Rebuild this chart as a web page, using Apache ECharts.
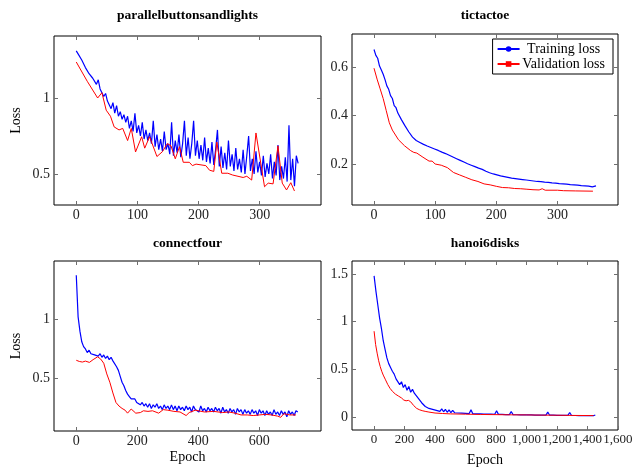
<!DOCTYPE html>
<html>
<head>
<meta charset="utf-8">
<script src="https://cdn.jsdelivr.net/npm/echarts@6/dist/echarts.min.js"></script>
<style>
html,body{margin:0;padding:0;background:#fff;}
#chart{width:643px;height:468px;}
</style>
</head>
<body>
<div id="chart"></div>
<script>
// ---------------- DATA ----------------
const panelTitles = ['parallelbuttonsandlights', 'tictactoe', 'connectfour', 'hanoi6disks'];
const seriesNames = ['Training loss', 'Validation loss'];

// parallelbuttonsandlights
const pbTrainStep = 3;
const pbTrain = [1.31,1.29,1.28,1.25,1.24,1.20,1.21,1.16,1.17,1.13,1.14,1.09,1.12,1.06,1.07,1.01,1.03,0.98,0.99,0.93,
  0.97,0.90,0.95,0.88,0.91,0.86,0.89,0.84,0.88,0.80,0.85,0.78,0.90,0.77,0.82,0.75,0.84,0.73,0.79,0.72,
  0.77,0.70,0.85,0.68,0.76,0.66,0.73,0.65,0.78,0.66,0.70,0.63,0.84,0.62,0.72,0.64,0.76,0.61,0.70,0.85,
  0.62,0.74,0.60,0.70,0.85,0.62,0.72,0.60,0.69,0.59,0.74,0.58,0.67,0.57,0.71,0.56,0.66,0.79,0.55,0.68,
  0.54,0.64,0.53,0.72,0.55,0.63,0.52,0.67,0.53,0.60,0.51,0.66,0.50,0.62,0.75,0.52,0.60,0.50,0.65,0.51,
  0.58,0.49,0.62,0.48,0.57,0.50,0.63,0.47,0.58,0.49,0.69,0.46,0.55,0.47,0.61,0.45,0.82,0.46,0.60,0.42,
  0.62,0.57];
const pbValEpochs = [0,18,35,42,49,56,62,70,76,84,90,97,107,112,120,132,141,149,155,162,169,175,185,190,196,212,218,225,230,238,248,256,273,279,287,294,308,314,322,330,337,344,351,357];
const pbVal = [1.237,1.11,1.00,1.035,0.92,0.88,0.81,0.79,0.80,0.72,0.80,0.645,0.745,0.67,0.745,0.615,0.647,0.70,0.685,0.60,0.68,0.577,0.577,0.555,0.565,0.555,0.525,0.517,0.71,0.505,0.505,0.493,0.477,0.485,0.46,0.77,0.416,0.44,0.435,0.685,0.44,0.395,0.443,0.388];

// tictactoe
const tttTrainStep = 3;
const tttTrain = [0.672,0.648,0.636,0.604,0.588,0.570,0.548,0.522,0.508,0.482,0.470,0.441,0.432,0.410,0.402,0.382,0.375,0.356,0.352,0.332,
  0.330,0.311,0.312,0.297,0.300,0.289,0.292,0.281,0.286,0.274,0.280,0.268,0.274,0.262,0.266,0.256,0.260,0.249,0.253,0.243,
  0.245,0.236,0.238,0.229,0.231,0.222,0.225,0.215,0.218,0.208,0.211,0.201,0.204,0.195,0.199,0.189,0.193,0.183,0.187,0.178,
  0.176,0.170,0.171,0.164,0.167,0.159,0.163,0.155,0.159,0.151,0.155,0.148,0.152,0.145,0.149,0.142,0.147,0.140,0.144,0.138,
  0.141,0.136,0.139,0.134,0.137,0.132,0.135,0.130,0.133,0.128,0.132,0.127,0.130,0.125,0.129,0.124,0.127,0.122,0.126,0.121,
  0.124,0.119,0.123,0.118,0.121,0.117,0.120,0.115,0.119,0.114,0.117,0.113,0.116,0.111,0.115,0.110,0.113,0.109,0.112,0.106,
  0.109,0.110];
const tttValEpochs = [0,5,10,15,20,25,30,40,50,60,65,70,80,90,95,100,110,120,130,140,150,160,170,180,190,200,210,220,230,240,250,260,270,275,280,300,310,330,358];
const tttVal = [0.595,0.55,0.51,0.47,0.42,0.37,0.34,0.30,0.275,0.255,0.248,0.245,0.228,0.212,0.212,0.200,0.195,0.185,0.165,0.155,0.145,0.135,0.128,0.118,0.114,0.108,0.103,0.102,0.099,0.098,0.096,0.094,0.093,0.098,0.092,0.092,0.090,0.089,0.088];

// connectfour
const c4TrainStep = 6;
const c4Train = [1.37,1.02,0.90,0.81,0.77,0.75,0.72,0.74,0.71,0.72,0.70,0.71,0.69,0.71,0.68,0.70,0.67,0.69,0.66,0.68,
  0.65,0.66,0.60,0.57,0.52,0.47,0.44,0.40,0.37,0.35,0.33,0.32,0.33,0.30,0.31,0.28,0.30,0.27,0.29,0.26,
  0.29,0.25,0.28,0.26,0.29,0.25,0.27,0.24,0.28,0.25,0.27,0.24,0.28,0.24,0.27,0.23,0.27,0.24,0.26,0.23,
  0.27,0.24,0.26,0.22,0.27,0.24,0.25,0.22,0.27,0.23,0.25,0.22,0.26,0.23,0.25,0.22,0.26,0.23,0.25,0.21,
  0.26,0.22,0.24,0.21,0.25,0.22,0.24,0.20,0.25,0.22,0.24,0.20,0.24,0.21,0.23,0.20,0.24,0.21,0.23,0.19,
  0.24,0.21,0.23,0.19,0.23,0.20,0.22,0.19,0.24,0.20,0.22,0.19,0.23,0.20,0.22,0.18,0.23,0.20,0.22,0.19,
  0.23,0.22];
const c4ValEpochs = [0,10,20,30,43,55,70,80,90,100,110,120,130,140,150,160,168,180,195,210,220,235,250,270,285,300,320,340,360,370,390,420,450,480,500,520,540,560,580,600,620,640,660,670,680,700,720];
const c4Val = [0.655,0.645,0.64,0.648,0.637,0.66,0.684,0.665,0.63,0.54,0.47,0.38,0.30,0.27,0.25,0.235,0.21,0.245,0.21,0.215,0.23,0.225,0.23,0.21,0.24,0.235,0.225,0.22,0.19,0.215,0.235,0.22,0.225,0.215,0.22,0.21,0.195,0.195,0.19,0.195,0.20,0.195,0.185,0.175,0.205,0.195,0.195];

// hanoi6disks
const hnTrainStep = 12;
const hnTrain = [1.48,1.32,1.18,1.04,0.93,0.80,0.71,0.62,0.56,0.52,0.48,0.45,0.40,0.39,0.34,0.37,0.31,0.34,0.28,0.32,
  0.26,0.29,0.25,0.24,0.20,0.19,0.15,0.15,0.11,0.12,0.09,0.11,0.08,0.10,0.07,0.09,0.06,0.085,0.055,0.08,
  0.05,0.075,0.045,0.07,0.045,0.065,0.042,0.062,0.04,0.058,0.038,0.056,0.036,0.075,0.035,0.054,0.034,0.052,0.033,0.05,
  0.032,0.048,0.031,0.046,0.030,0.045,0.029,0.065,0.028,0.043,0.027,0.042,0.026,0.041,0.025,0.058,0.025,0.039,0.024,0.038,
  0.023,0.037,0.023,0.036,0.022,0.035,0.022,0.035,0.021,0.034,0.021,0.034,0.020,0.033,0.020,0.052,0.019,0.032,0.019,0.032,
  0.018,0.031,0.018,0.030,0.017,0.030,0.017,0.047,0.016,0.029,0.016,0.029,0.015,0.028,0.015,0.028,0.014,0.027,0.014,0.027,
  0.014,0.022];
const hnValEpochs = [0,10,20,30,40,50,60,75,90,105,120,140,160,180,195,210,225,240,260,280,300,320,340,360,400,450,500,600,700,800,900,1000,1100,1200,1300,1440];
const hnVal = [0.90,0.76,0.67,0.59,0.53,0.48,0.44,0.39,0.34,0.30,0.27,0.24,0.22,0.20,0.178,0.17,0.175,0.16,0.12,0.09,0.075,0.065,0.058,0.052,0.042,0.037,0.033,0.03,0.027,0.025,0.023,0.022,0.02,0.019,0.017,0.015];

// axis ticks
const xTicks = [[0,100,200,300],[0,100,200,300],[0,200,400,600],[0,200,400,600,800,1000,1200,1400,1600]];
const yTicks = [[0.5,1],[0.2,0.4,0.6],[0.5,1],[0,0.5,1,1.5]];
const xRanges = [[-36.4,400.4],[-36,399],[-73,802],[-145,1601]];
const yRanges = [[0.296,1.408],[0.031,0.736],[0.06,1.49],[-0.136,1.636]];

// ---------------- CHART ----------------
const FONT = '"Liberation Serif","Times New Roman",serif';
const grids = [
  {left:54, top:36, width:267, height:169},
  {left:352, top:34, width:266, height:171},
  {left:54, top:261, width:267, height:170},
  {left:352, top:261, width:266, height:170}
];
const trainSets = [[pbTrain,pbTrainStep],[tttTrain,tttTrainStep],[c4Train,c4TrainStep],[hnTrain,hnTrainStep]];
const valSets = [[pbValEpochs,pbVal],[tttValEpochs,tttVal],[c4ValEpochs,c4Val],[hnValEpochs,hnVal]];

function fmtX(v){ return Number(v).toLocaleString('en-US'); }
function tick(vals){ return {show:true, inside:true, length:4, lineStyle:{color:'#6e6e6e', width:1}, customValues:vals}; }
function noLine(){ return {show:false, onZero:false}; }

const xAxes = [], yAxes = [], series = [], graphics = [];
grids.forEach((g, i) => {
  g.show = true; g.borderColor = '#000'; g.borderWidth = 1;
  const xb = {type:'value', gridIndex:i, position:'bottom', min:xRanges[i][0], max:xRanges[i][1],
    axisLine:noLine(), splitLine:{show:false}, axisTick:tick(xTicks[i]),
    axisLabel:{show:true, customValues:xTicks[i], formatter:fmtX, fontFamily:FONT, fontSize:(i === 3 ? 13 : 14), color:'#222', margin:3,
      showMinLabel:true, showMaxLabel:true, hideOverlap:false}};
  const xt = {type:'value', gridIndex:i, position:'top', min:xRanges[i][0], max:xRanges[i][1],
    axisLine:noLine(), splitLine:{show:false}, axisTick:tick(xTicks[i]),
    axisLabel:{show:false}};
  if (i >= 2) {
    xb.name = 'Epoch'; xb.nameLocation = 'middle'; xb.nameGap = (i === 3 ? 23 : 19);
    xb.nameTextStyle = {fontFamily:FONT, fontSize:14, color:'#000'};
  }
  xAxes.push(xb, xt);
  const yl = {type:'value', gridIndex:i, position:'left', min:yRanges[i][0], max:yRanges[i][1],
    axisLine:noLine(), splitLine:{show:false}, axisTick:tick(yTicks[i]),
    axisLabel:{show:true, customValues:yTicks[i], formatter:v => String(v), fontFamily:FONT, fontSize:14, color:'#222', margin:4}};
  const yr = {type:'value', gridIndex:i, position:'right', min:yRanges[i][0], max:yRanges[i][1],
    axisLine:noLine(), splitLine:{show:false}, axisTick:tick(yTicks[i]),
    axisLabel:{show:false}};
  if (i % 2 === 0) {
    yl.name = 'Loss'; yl.nameLocation = 'middle'; yl.nameGap = 31; yl.nameRotate = 90;
    yl.nameTextStyle = {fontFamily:FONT, fontSize:14, color:'#000'};
  }
  yAxes.push(yl, yr);

  const [tr, step] = trainSets[i];
  series.push({
    name: seriesNames[0], type:'line', xAxisIndex:2*i, yAxisIndex:2*i,
    data: tr.map((v, k) => [k*step, v]),
    symbol:'circle', showSymbol:false, symbolSize:6,
    lineStyle:{color:'#0000ff', width:1.2}, itemStyle:{color:'#0000ff'},
    z: 2, silent:true
  });
  const [ve, vv] = valSets[i];
  series.push({
    name: seriesNames[1], type:'line', xAxisIndex:2*i, yAxisIndex:2*i,
    data: ve.map((e, k) => [e, vv[k]]),
    symbol:'rect', showSymbol:false, symbolSize:6,
    lineStyle:{color:'#ff0000', width:1}, itemStyle:{color:'#ff0000'},
    z: 3, silent:true
  });

  graphics.push({
    type:'text', x: g.left + g.width/2, y: (i < 2 ? 16 : 244),
    style:{text: panelTitles[i], textAlign:'center', textVerticalAlign:'middle',
      fontFamily:FONT, fontSize:13.5, fontWeight:'bold', fill:'#000'}
  });
});

const chart = echarts.init(document.getElementById('chart'), null, {renderer:'canvas'});
chart.setOption({
  animation:false,
  backgroundColor:'#fff',
  grid: grids,
  xAxis: xAxes,
  yAxis: yAxes,
  series: series,
  graphic: graphics,
  legend: {
    data: seriesNames,
    orient:'vertical', right:30, top:39,
    backgroundColor:'#fff', borderColor:'#000', borderWidth:1, borderRadius:0,
    padding:[3,8,3,4], itemWidth:22, itemHeight:7, itemGap:1,
    selectedMode:false,
    formatter: n => '{c|' + n + '}',
    textStyle:{fontFamily:FONT, fontSize:14, color:'#000',
      rich:{c:{width:78, align:'center', lineHeight:16, fontFamily:FONT, fontSize:14, color:'#000'}}}
  }
});
</script>
</body>
</html>
